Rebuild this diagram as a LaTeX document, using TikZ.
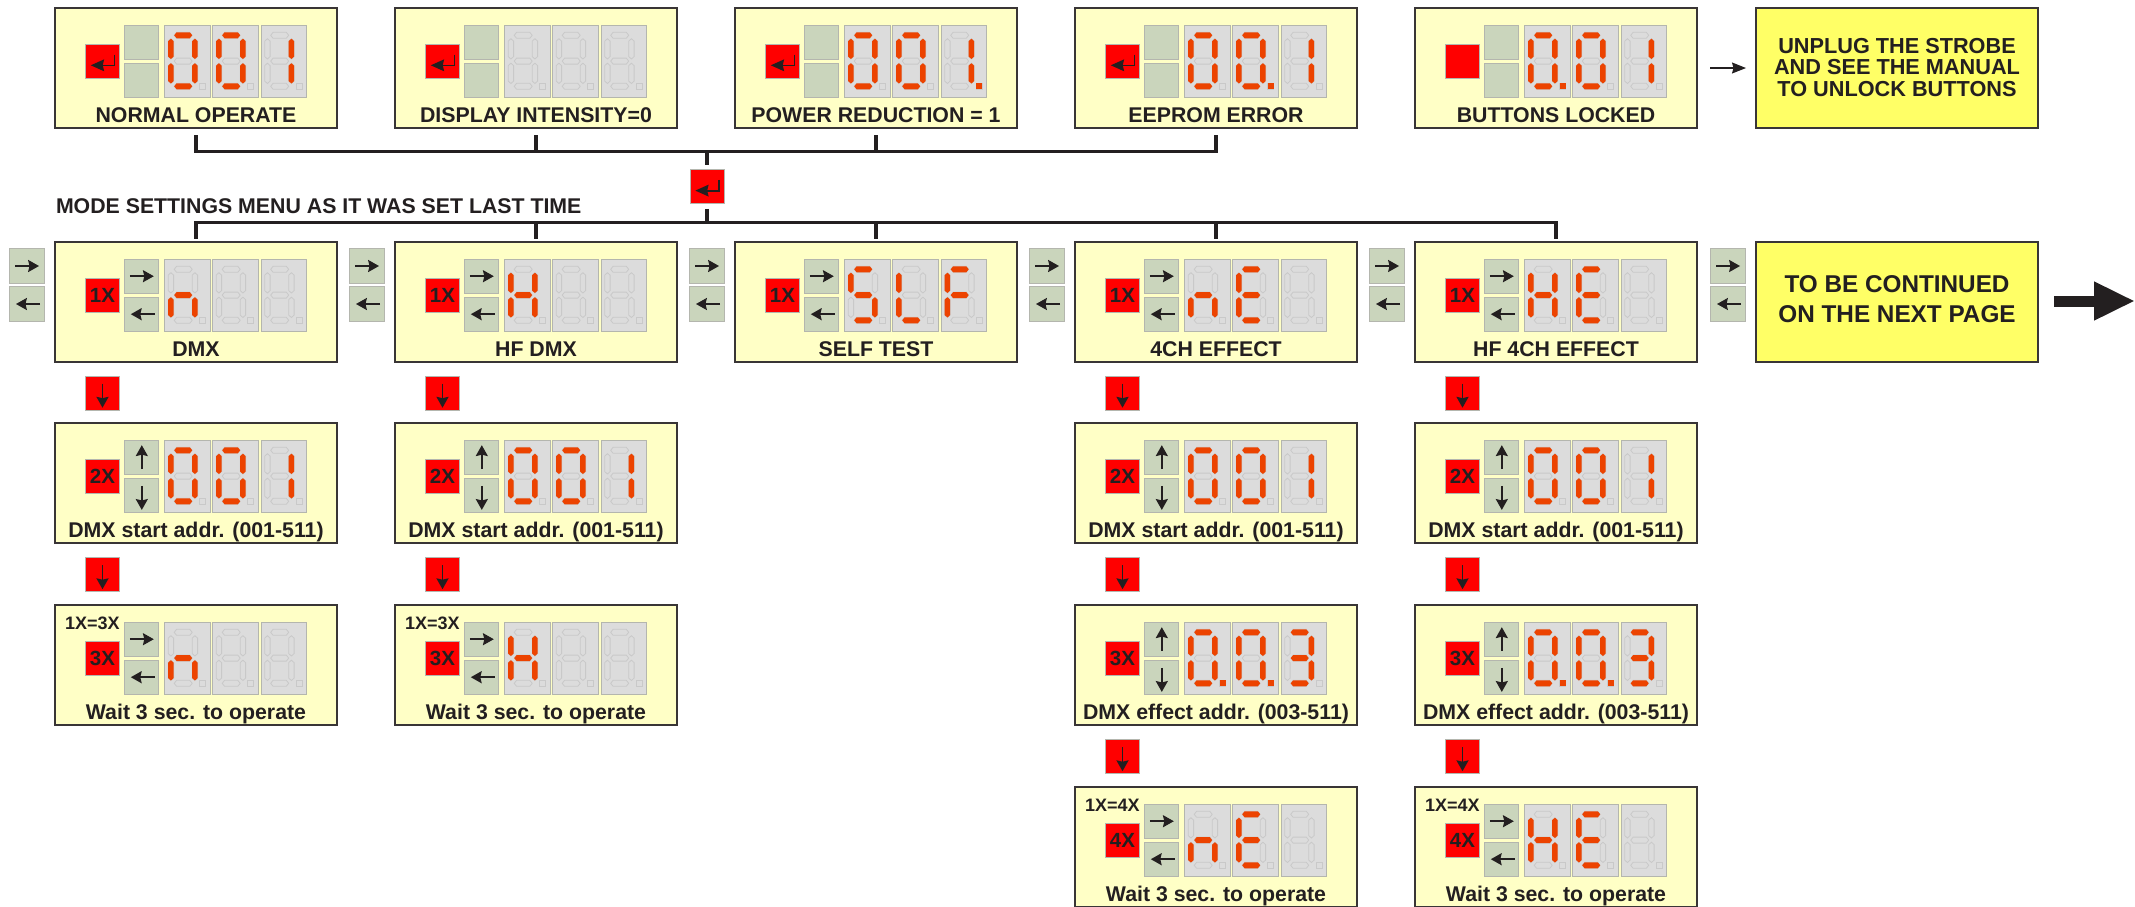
\documentclass[tikz,border=0pt]{standalone}
\usepackage{fontspec}
\setmainfont{Liberation Sans}
\usetikzlibrary{arrows.meta,calc}
\definecolor{ink}{HTML}{231F20}
\definecolor{boxfill}{HTML}{FFFFC6}
\definecolor{yfill}{HTML}{FFFF66}
\definecolor{greenb}{HTML}{CAD5BC}
\definecolor{redb}{HTML}{FF0000}
\definecolor{panelc}{HTML}{DCDCDC}
\definecolor{edgec}{HTML}{B4B6AE}
\definecolor{segonc}{HTML}{EC4300}
\definecolor{segoffc}{HTML}{C9C9C9}
\tikzset{
  x=1pt,y=-1pt,
  ubox/.style={draw=ink!90,line width=1.4pt,fill=boxfill,minimum width=282pt,minimum height=120pt,inner sep=0,outer sep=0,
    preaction={draw=gray!70,line width=2.6pt}},
  ybox/.style={ubox,fill=yfill},
  redbtn/.style={draw=edgec,line width=1pt,fill=redb,minimum size=34pt,inner sep=0,outer sep=0,text=ink,font=\fontsize{20.5}{22}\selectfont\bfseries},
  greenbtn/.style={draw=edgec,line width=1pt,fill=greenb,minimum size=34.2pt,inner sep=0,outer sep=0},
  panel/.style={draw=edgec,line width=1pt,fill=panelc,minimum width=45.5pt,minimum height=72.5pt,inner sep=0,outer sep=0},
  seglabel/.style={inner sep=0,outer sep=0,text=ink,font=\fontsize{21.3}{24}\selectfont\bfseries,anchor=base},
  smalllabel/.style={inner sep=0,outer sep=0,text=ink,font=\fontsize{18}{20}\selectfont\bfseries,anchor=base west},
  ytext/.style={inner sep=0,outer sep=0,text=ink,align=center},
  segon/.style={fill=segonc},
  segoff/.style={draw=segoffc,line width=.8pt},
  bus/.style={draw=ink,line width=3.2pt,line join=miter},
}
% one bar of a seven-segment figure
\newcommand\hsegm[4]{\path[#4] (#1,#3) -- ({#1+2.4},{#3-3}) -- ({#2-2.4},{#3-3}) -- (#2,#3) -- ({#2-2.4},{#3+3}) -- ({#1+2.4},{#3+3}) -- cycle;}
\newcommand\vsegm[4]{\path[#4] (#1,#2) -- ({#1+2.7},{#2+2.4}) -- ({#1+2.7},{#3-2.4}) -- (#1,#3) -- ({#1-2.7},{#3-2.4}) -- ({#1-2.7},{#2+2.4}) -- cycle;}
\def\sega#1{\hsegm{9.7}{27.7}{10.3}{#1}}
\def\segg#1{\hsegm{9.7}{27.7}{36.1}{#1}}
\def\segd#1{\hsegm{9.7}{27.7}{61.3}{#1}}
\def\segf#1{\vsegm{6.4}{13.7}{34}{#1}}
\def\sege#1{\vsegm{6.4}{38.2}{58.5}{#1}}
\def\segb#1{\vsegm{30.4}{13.7}{34}{#1}}
\def\segc#1{\vsegm{30.4}{38.2}{58.5}{#1}}
\def\segp#1{\path[#1] (35,58) rectangle (41,64);}
\def\segz#1{}
\def\Dzero{a,b,c,d,e,f}
\def\Dzerop{a,b,c,d,e,f,p}
\def\Done{b,c}
\def\Donep{b,c,p}
\def\Dn{c,e,g}
\def\DH{b,c,e,f,g}
\def\DE{a,d,e,f,g}
\def\DS{a,c,d,f,g}
\def\DL{d,e,f}
\def\DF{a,e,f,g}
\def\DT{a,b,c,d,g}
\def\Doff{z}
% one figure panel
\newcommand\dpanel[4]{%
  \node[panel] (#1) at ({#2+22.75},{#3+36.25}) {};
  \begin{scope}[shift={(#1.north west)}]
    \foreach \s in {a,b,c,d,e,f,g,p}{\csname seg\s\endcsname{segoff}}
    \foreach \s in #4 {\csname seg\s\endcsname{segon}}
  \end{scope}}
% arrow glyph on a button
\newcommand\aglyph[4]{%
  \begin{scope}[shift={($(#1.center)+(#3,#4)$)},rotate=#2]
    \draw[ink,line width=1.5pt] (-12,0) -- (3,0);
    \fill[ink] (12,0) -- (1,-6.2) -- (2.5,0) -- (1,6.2) -- cycle;
  \end{scope}}
\newcommand\enterglyph[1]{%
  \begin{scope}[shift={(#1.north west)}]
    \draw[ink,line width=1.5pt] (29,10) -- (29,21) -- (15,21);
    \fill[ink] (5.3,20.8) -- (18.7,14.8) -- (17.2,20.8) -- (18.7,26.8) -- cycle;
  \end{scope}}
\def\glyphlr#1{\aglyph{#1-u}{0}{0}{0}\aglyph{#1-d}{180}{1}{0}}
\def\glyphud#1{\aglyph{#1-u}{90}{0}{0}\aglyph{#1-d}{270}{0}{2.7}}
\def\glyphnone#1{}
% name, x, y, text on red button, green glyph, digit 1,2,3, label
\newcommand\unit[9]{%
  \node[ubox] (#1) at ({#2+141},{#3+60}) {};
  \node[seglabel] (#1-l) at ({#2+141},{#3+114}) {#9};
  \node[redbtn] (#1-r) at ({#2+47.5},{#3+53.5}) {#4};
  \node[greenbtn] (#1-u) at ({#2+86.8},{#3+34.2}) {};
  \node[greenbtn] (#1-d) at ({#2+86.8},{#3+72.2}) {};
  \csname glyph#5\endcsname{#1}
  \dpanel{#1-a}{#2+109.5}{#3+17}{#6}
  \dpanel{#1-b}{#2+157.5}{#3+17}{#7}
  \dpanel{#1-c}{#2+206}{#3+17}{#8}}
% free-standing buttons
\newcommand\sidepair[3]{%
  \node[greenbtn] (#1-u) at ({#2+17},{#3+41}) {};
  \node[greenbtn] (#1-d) at ({#2+17},{#3+79}) {};
  \aglyph{#1-u}{0}{0}{0}\aglyph{#1-d}{180}{1}{0}}
\newcommand\downbtn[3]{%
  \node[redbtn] (#1) at ({#2+47.5},{#3}) {};
  \aglyph{#1}{270}{0}{2.7}}
\begin{document}
\begin{tikzpicture}
\useasboundingbox (0,0) rectangle (2135,906);
% top row
\unit{n1}{55}{8}{}{none}{\Dzero}{\Dzero}{\Done}{NORMAL OPERATE}\enterglyph{n1-r}
\unit{n2}{395}{8}{}{none}{\Doff}{\Doff}{\Doff}{DISPLAY INTENSITY=0}\enterglyph{n2-r}
\unit{n3}{735}{8}{}{none}{\Dzero}{\Dzero}{\Donep}{POWER REDUCTION = 1}\enterglyph{n3-r}
\unit{n4}{1075}{8}{}{none}{\Dzero}{\Dzerop}{\Done}{EEPROM ERROR}\enterglyph{n4-r}
\unit{n5}{1415}{8}{}{none}{\Dzerop}{\Dzero}{\Done}{BUTTONS LOCKED}
\node[ybox] (y1) at (1897,68) {};
\node[ytext,font=\fontsize{21.7}{21.7}\selectfont\bfseries] (y1-t) at (1897,67.5) {UNPLUG THE STROBE\\AND SEE THE MANUAL\\TO UNLOCK BUTTONS};
\draw[ink,line width=1.2pt,shorten <=13pt,shorten >=10pt,-{Stealth[length=14pt,width=11pt,inset=1.5pt]}] (n5.east) -- (y1.west);
% bus between rows
\coordinate (busT) at (707,151.5);
\coordinate (busB) at (707,222.7);
\node[redbtn] (ent) at (707,186.8) {};
\enterglyph{ent}
\foreach \n in {n1,n2,n3,n4} {\draw[bus,shorten <=7pt] (\n.south) |- (busT);}
\draw[bus,shorten >=5pt] (busT) -- (ent.north);
\draw[bus,shorten <=5pt] (ent.south) -- (busB);
\node[seglabel,anchor=base west] (modetitle) at (56,213) {MODE SETTINGS MENU AS IT WAS SET LAST TIME};
% second row
\unit{m1}{55}{242}{1X}{lr}{\Dn}{\Doff}{\Doff}{DMX}
\unit{m2}{395}{242}{1X}{lr}{\DH}{\Doff}{\Doff}{HF DMX}
\unit{m3}{735}{242}{1X}{lr}{\DS}{\DL}{\DF}{SELF TEST}
\unit{m4}{1075}{242}{1X}{lr}{\Dn}{\DE}{\Doff}{4CH EFFECT}
\unit{m5}{1415}{242}{1X}{lr}{\DH}{\DE}{\Doff}{HF 4CH EFFECT}
\foreach \n in {m1,m2,m3,m4,m5} {\draw[bus,shorten >=3pt] (busB) -| (\n.north);}
\sidepair{s0}{10}{225}
\sidepair{s1}{350}{225}
\sidepair{s2}{690}{225}
\sidepair{s3}{1030}{225}
\sidepair{s4}{1370}{225}
\sidepair{s5}{1711}{225}
\node[ybox] (y2) at (1897,302) {};
\node[ytext,font=\fontsize{24.3}{30}\selectfont\bfseries] (y2-t) at (1897,299) {TO BE CONTINUED\\ON THE NEXT PAGE};
\coordinate (bigend) at (2135,301);
\draw[ink,line width=11pt,shorten <=16pt,-{Triangle[length=41pt,width=36pt]}] (y2.east |- bigend) -- (bigend);
% third row
\downbtn{k1}{55}{393}
\downbtn{k2}{395}{393}
\downbtn{k4}{1075}{393}
\downbtn{k5}{1415}{393}
\unit{p1}{55}{423}{2X}{ud}{\Dzero}{\Dzero}{\Done}{DMX start addr. (001-511)}
\unit{p2}{395}{423}{2X}{ud}{\Dzero}{\Dzero}{\Done}{DMX start addr. (001-511)}
\unit{p4}{1075}{423}{2X}{ud}{\Dzero}{\Dzero}{\Done}{DMX start addr. (001-511)}
\unit{p5}{1415}{423}{2X}{ud}{\Dzero}{\Dzero}{\Done}{DMX start addr. (001-511)}
% fourth row
\downbtn{j1}{55}{574.5}
\downbtn{j2}{395}{574.5}
\downbtn{j4}{1075}{574.5}
\downbtn{j5}{1415}{574.5}
\unit{q1}{55}{605}{3X}{lr}{\Dn}{\Doff}{\Doff}{Wait 3 sec. to operate}
\node[smalllabel] (q1-e) at (65,629) {1X=3X};
\unit{q2}{395}{605}{3X}{lr}{\DH}{\Doff}{\Doff}{Wait 3 sec. to operate}
\node[smalllabel] (q2-e) at (405,629) {1X=3X};
\unit{q4}{1075}{605}{3X}{ud}{\Dzerop}{\Dzerop}{\DT}{DMX effect addr. (003-511)}
\unit{q5}{1415}{605}{3X}{ud}{\Dzerop}{\Dzerop}{\DT}{DMX effect addr. (003-511)}
% fifth row
\downbtn{i4}{1075}{756.5}
\downbtn{i5}{1415}{756.5}
\unit{r4}{1075}{787}{4X}{lr}{\Dn}{\DE}{\Doff}{Wait 3 sec. to operate}
\node[smalllabel] (r4-e) at (1085,811) {1X=4X};
\unit{r5}{1415}{787}{4X}{lr}{\DH}{\DE}{\Doff}{Wait 3 sec. to operate}
\node[smalllabel] (r5-e) at (1425,811) {1X=4X};
\end{tikzpicture}
\end{document}
